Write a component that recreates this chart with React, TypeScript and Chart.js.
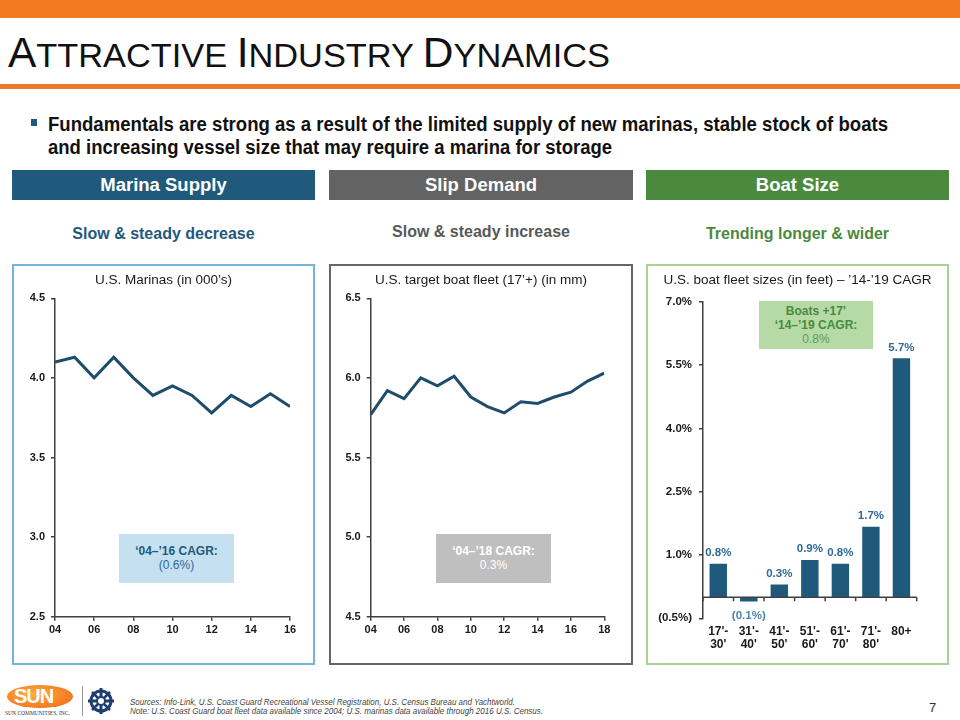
import React, { useEffect, useLayoutEffect, useRef } from "react";
import { Chart, registerables } from "chart.js";

Chart.register(...registerables);

const FONT = "'Liberation Sans', Arial, Helvetica, sans-serif";

// ---- data ----
const marinaYears = [2004, 2005, 2006, 2007, 2008, 2009, 2010, 2011, 2012, 2013, 2014, 2015, 2016];
const marinaValues = [4.10, 4.13, 4.00, 4.13, 4.00, 3.89, 3.95, 3.89, 3.78, 3.89, 3.82, 3.90, 3.82];

const fleetYears = [2004, 2005, 2006, 2007, 2008, 2009, 2010, 2011, 2012, 2013, 2014, 2015, 2016, 2017, 2018];
const fleetValues = [5.77, 5.92, 5.87, 6.00, 5.95, 6.01, 5.88, 5.82, 5.78, 5.85, 5.84, 5.88, 5.91, 5.98, 6.03];

const sizeCategories = [["17'-", "30'"], ["31'-", "40'"], ["41'-", "50'"], ["51'-", "60'"], ["61'-", "70'"], ["71'-", "80'"], ["80+"]];
const sizeValues = [0.79, -0.1, 0.3, 0.88, 0.79, 1.67, 5.66];

const marinaTicks = { min: 2.5, max: 4.5, step: 0.5 };
const fleetTicks = { min: 4.5, max: 6.5, step: 0.5 };
const sizeTicks = { min: -0.5, max: 7.0, step: 1.5 };

// ---- colours ----
const ORANGE = "#F47920";
const NAVY = "#1F5A7C";
const LINE = "#1E4D6B";
const GRAY = "#636363";
const GREEN = "#4B8A3E";
const AXIS = "#404040";
const TICK_TEXT = "#1a1a1a";

function fmtPct(v: number) {
  return v < 0 ? `(${Math.abs(v).toFixed(1)}%)` : `${v.toFixed(1)}%`;
}

function FitText({ width, style, children }: any) {
  const ref = useRef<HTMLSpanElement>(null);
  useLayoutEffect(() => {
    const el = ref.current;
    if (!el) return;
    el.style.transform = "none";
    const w = el.getBoundingClientRect().width;
    if (w > 0) el.style.transform = `scaleX(${width / w})`;
  }, [width]);
  return (
    <span
      ref={ref}
      style={{ display: "inline-block", whiteSpace: "nowrap", transformOrigin: "left center", ...style }}
    >
      {children}
    </span>
  );
}

function ChartCanvas({ left, top, width, height, make }: any) {
  const ref = useRef<HTMLCanvasElement>(null);
  useEffect(() => {
    const chart = new Chart(ref.current as HTMLCanvasElement, make());
    return () => chart.destroy();
  }, []);
  return (
    <canvas
      ref={ref}
      width={width}
      height={height}
      style={{ position: "absolute", left, top, width, height }}
    />
  );
}

function lineConfig(opts: {
  years: number[];
  values: number[];
  ticks: { min: number; max: number; step: number };
  yWidth: number;
  padRight: number;
}) {
  return {
    type: "line",
    data: {
      datasets: [
        {
          data: opts.years.map((x, i) => ({ x, y: opts.values[i] })),
          borderColor: LINE,
          borderWidth: 3,
          pointRadius: 0,
          tension: 0,
          fill: false,
        },
      ],
    },
    options: {
      animation: false,
      responsive: false,
      maintainAspectRatio: false,
      layout: { padding: { left: 0, right: opts.padRight, top: 33.3, bottom: 0 } },
      plugins: {
        legend: { display: false },
        tooltip: { enabled: false },
        title: { display: false },
      },
      scales: {
        x: {
          type: "linear",
          min: opts.years[0],
          max: opts.years[opts.years.length - 1],
          ticks: {
            stepSize: 2,
            callback: (v: any) => String(v).slice(2),
            color: TICK_TEXT,
            font: { family: FONT, size: 11, weight: "bold" },
            padding: 3,
            maxRotation: 0,
            autoSkip: false,
          },
          grid: { display: true, drawOnChartArea: false, drawTicks: true, tickLength: 4, color: AXIS, lineWidth: 1.5 },
          border: { display: true, color: AXIS, width: 1.5 },
          afterFit: (s: any) => {
            s.height = 47.3;
          },
        },
        y: {
          min: opts.ticks.min,
          max: opts.ticks.max,
          ticks: {
            stepSize: opts.ticks.step,
            callback: (v: any) => Number(v).toFixed(1),
            color: TICK_TEXT,
            font: { family: FONT, size: 11, weight: "bold" },
            padding: 6,
          },
          grid: { display: true, drawOnChartArea: false, drawTicks: true, tickLength: 4, color: AXIS, lineWidth: 1.5 },
          border: { display: true, color: AXIS, width: 1.5 },
          afterFit: (s: any) => {
            s.width = opts.yWidth;
          },
        },
      },
    },
  };
}

const zeroLinePlugin = {
  id: "zeroLine",
  afterDatasetsDraw(chart: any) {
    const { ctx, chartArea, scales } = chart;
    const y0 = scales.y.getPixelForValue(0);
    const n = chart.data.labels.length;
    ctx.save();
    ctx.strokeStyle = AXIS;
    ctx.lineWidth = 1.5;
    ctx.beginPath();
    ctx.moveTo(chartArea.left, y0);
    ctx.lineTo(chartArea.right, y0);
    for (let i = 0; i <= n; i++) {
      const px = chartArea.left + ((chartArea.right - chartArea.left) * i) / n;
      ctx.moveTo(px, y0);
      ctx.lineTo(px, y0 + 4);
    }
    ctx.stroke();
    ctx.restore();
  },
};

const barLabelPlugin = {
  id: "barLabels",
  afterDatasetsDraw(chart: any) {
    const { ctx } = chart;
    const meta = chart.getDatasetMeta(0);
    const data = chart.data.datasets[0].data as number[];
    ctx.save();
    ctx.font = `bold 11.5px ${FONT}`;
    ctx.textAlign = "center";
    meta.data.forEach((el: any, i: number) => {
      const v = data[i];
      if (v >= 0) {
        ctx.fillStyle = "#2E6B96";
        ctx.textBaseline = "bottom";
        ctx.fillText(fmtPct(v), el.x, el.y - 5);
      } else {
        ctx.fillStyle = "#4A83AE";
        ctx.textBaseline = "top";
        ctx.fillText(fmtPct(v), el.x, el.y + 9);
      }
    });
    ctx.restore();
  },
};

function barConfig() {
  return {
    type: "bar",
    data: {
      labels: sizeCategories,
      datasets: [
        {
          data: sizeValues,
          backgroundColor: NAVY,
          barPercentage: 0.57,
          categoryPercentage: 1,
        },
      ],
    },
    plugins: [zeroLinePlugin, barLabelPlugin],
    options: {
      animation: false,
      responsive: false,
      maintainAspectRatio: false,
      layout: { padding: { left: 0, right: 31.3, top: 36.7, bottom: 0 } },
      plugins: {
        legend: { display: false },
        tooltip: { enabled: false },
        title: { display: false },
      },
      scales: {
        x: {
          ticks: {
            color: TICK_TEXT,
            font: { family: FONT, size: 12, weight: "bold", lineHeight: 1.05 },
            padding: 7,
            maxRotation: 0,
            autoSkip: false,
          },
          grid: { display: false, drawTicks: false },
          border: { display: false },
          afterFit: (s: any) => {
            s.height = 45.7;
          },
        },
        y: {
          min: sizeTicks.min,
          max: sizeTicks.max,
          ticks: {
            stepSize: sizeTicks.step,
            callback: (v: any) => fmtPct(Number(v)),
            color: TICK_TEXT,
            font: { family: FONT, size: 11.5, weight: "bold" },
            padding: 7,
          },
          grid: { display: true, drawOnChartArea: false, drawTicks: true, tickLength: 4, color: AXIS, lineWidth: 1.5 },
          border: { display: true, color: AXIS, width: 1.5 },
          afterFit: (s: any) => {
            s.width = 56;
          },
        },
      },
    },
  };
}

const abs = (left: number, top: number, width?: number, height?: number): React.CSSProperties => ({
  position: "absolute",
  left,
  top,
  width,
  height,
});

function Header({ left, width, color, text }: any) {
  return (
    <div
      style={{
        ...abs(left, 170, width, 30),
        background: color,
        color: "#fff",
        fontWeight: "bold",
        fontSize: 18.5,
        lineHeight: "30px",
        textAlign: "center",
      }}
    >
      {text}
    </div>
  );
}

function Sub({ left, width, top, color, text }: any) {
  return (
    <div
      style={{
        ...abs(left, top, width, 20),
        color,
        fontWeight: "bold",
        fontSize: 16,
        lineHeight: "20px",
        textAlign: "center",
      }}
    >
      {text}
    </div>
  );
}

function ChartTitle({ left, width, text }: any) {
  return (
    <div
      style={{
        ...abs(left, 271, width, 18),
        color: TICK_TEXT,
        fontSize: 13.5,
        lineHeight: "18px",
        textAlign: "center",
        whiteSpace: "nowrap",
      }}
    >
      {text}
    </div>
  );
}

function Panel({ left, width, color }: any) {
  return (
    <div
      style={{
        ...abs(left, 264, width, 401),
        boxSizing: "border-box",
        border: `2px solid ${color}`,
        pointerEvents: "none",
      }}
    />
  );
}

function NoteBox({ left, top, width, height, bg, lines }: any) {
  return (
    <div
      style={{
        ...abs(left, top, width, height),
        background: bg,
        display: "flex",
        flexDirection: "column",
        justifyContent: "center",
        alignItems: "center",
        fontSize: 12,
        lineHeight: "14px",
      }}
    >
      {lines.map((l: any, i: number) => (
        <div key={i} style={{ color: l.color, fontWeight: l.bold ? "bold" : "normal" }}>
          {l.text}
        </div>
      ))}
    </div>
  );
}

export default function App() {
  useEffect(() => {
    document.body.style.margin = "0";
  }, []);

  return (
    <div
      style={{
        position: "absolute",
        left: 0,
        top: 0,
        width: 960,
        height: 720,
        background: "#fff",
        overflow: "hidden",
        fontFamily: FONT,
      }}
    >
      {/* top bar */}
      <div style={{ ...abs(0, 0, 960, 18), background: ORANGE }} />

      {/* title */}
      <div style={{ ...abs(8, 31.5), fontSize: 42, lineHeight: "42px", color: "#111" }}>
        <FitText width={602}>
          A<span style={{ fontSize: 34 }}>TTRACTIVE </span>I<span style={{ fontSize: 34 }}>NDUSTRY </span>D
          <span style={{ fontSize: 34 }}>YNAMICS</span>
        </FitText>
      </div>

      <div style={{ ...abs(0, 84, 960, 5), background: "#EF792B" }} />

      {/* bullet */}
      <div style={{ ...abs(31, 119, 6, 7), background: NAVY }} />
      <div style={{ ...abs(48, 114.5), fontSize: 19.5, lineHeight: "19px", fontWeight: "bold", color: "#111" }}>
        <FitText width={840}>
          Fundamentals are strong as a result of the limited supply of new marinas, stable stock of boats
        </FitText>
      </div>
      <div style={{ ...abs(48, 137.5), fontSize: 19.5, lineHeight: "19px", fontWeight: "bold", color: "#111" }}>
        <FitText width={564}>and increasing vessel size that may require a marina for storage</FitText>
      </div>

      {/* headers */}
      <Header left={12} width={303} color={NAVY} text="Marina Supply" />
      <Header left={329} width={304} color={GRAY} text="Slip Demand" />
      <Header left={646} width={303} color={GREEN} text="Boat Size" />

      <Sub left={12} width={303} top={224} color={NAVY} text="Slow & steady decrease" />
      <Sub left={329} width={304} top={222} color="#595959" text="Slow & steady increase" />
      <Sub left={646} width={303} top={224} color={GREEN} text="Trending longer & wider" />

      {/* charts */}
      <ChartCanvas
        left={13}
        top={265}
        width={301}
        height={399}
        make={() =>
          lineConfig({
            years: marinaYears,
            values: marinaValues,
            ticks: marinaTicks,
            yWidth: 42,
            padRight: 24,
          })
        }
      />
      <ChartCanvas
        left={330}
        top={265}
        width={302}
        height={399}
        make={() =>
          lineConfig({
            years: fleetYears,
            values: fleetValues,
            ticks: fleetTicks,
            yWidth: 40.7,
            padRight: 27.7,
          })
        }
      />
      <ChartCanvas left={647} top={265} width={301} height={399} make={barConfig} />

      <ChartTitle left={12} width={303} text="U.S. Marinas (in 000’s)" />
      <ChartTitle left={329} width={304} text="U.S. target boat fleet (17’+) (in mm)" />
      <ChartTitle left={646} width={303} text="U.S. boat fleet sizes (in feet) – ’14-’19 CAGR" />

      <Panel left={12} width={303} color="#74B3DA" />
      <Panel left={329} width={304} color="#666666" />
      <Panel left={646} width={303} color="#A6D296" />

      {/* annotation boxes */}
      <NoteBox
        left={119}
        top={534}
        width={115}
        height={48.5}
        bg="#C5E1F1"
        lines={[
          { text: "‘04–’16 CAGR:", color: NAVY, bold: true },
          { text: "(0.6%)", color: "#2E6B96", bold: false },
        ]}
      />
      <NoteBox
        left={436}
        top={534}
        width={115}
        height={48.5}
        bg="#BFBFBF"
        lines={[
          { text: "‘04–’18 CAGR:", color: "#fff", bold: true },
          { text: "0.3%", color: "#fff", bold: false },
        ]}
      />
      <NoteBox
        left={759}
        top={301}
        width={114}
        height={47.5}
        bg="#B5DAA6"
        lines={[
          { text: "Boats +17’", color: GREEN, bold: true },
          { text: "‘14–’19 CAGR:", color: GREEN, bold: true },
          { text: "0.8%", color: "#5E9E50", bold: false },
        ]}
      />

      {/* footer logo */}
      <div
        style={{
          ...abs(7, 685, 66, 23),
          borderRadius: "50%",
          background: "radial-gradient(ellipse at 40% 40%, #FBB040 0%, #F47920 70%, #E8661B 100%)",
          color: "#fff",
          fontWeight: "bold",
          fontSize: 20,
          lineHeight: "23px",
          textAlign: "left",
          paddingLeft: 7,
          boxSizing: "border-box",
          letterSpacing: -1,
        }}
      >
        SUN
      </div>
      <div
        style={{
          ...abs(5, 709, 76, 8),
          fontFamily: "'Liberation Serif', serif",
          fontSize: 5.5,
          lineHeight: "8px",
          color: "#333",
          whiteSpace: "nowrap",
        }}
      >
        SUN COMMUNITIES, INC.
      </div>
      <div style={{ ...abs(82, 686, 1, 30), background: "#999" }} />
      <svg style={abs(87, 687, 28, 28)} width={28} height={28} viewBox="0 0 28 28">
        <circle cx="14" cy="14" r="10" fill="none" stroke="#1F3F6E" strokeWidth="3" />
        <line x1="14" y1="1" x2="14" y2="27" stroke="#1F3F6E" strokeWidth="3" />
        <line x1="1" y1="14" x2="27" y2="14" stroke="#1F3F6E" strokeWidth="3" />
        <line x1="5" y1="5" x2="23" y2="23" stroke="#1F3F6E" strokeWidth="2.5" />
        <line x1="23" y1="5" x2="5" y2="23" stroke="#1F3F6E" strokeWidth="2.5" />
        <circle cx="14" cy="14" r="4" fill="#fff" stroke="#1F3F6E" strokeWidth="2" />
      </svg>

      {/* sources */}
      <div style={{ ...abs(130, 698), fontSize: 8.5, lineHeight: "9px", fontStyle: "italic", color: "#444" }}>
        <FitText width={385}>
          Sources: Info-Link, U.S. Coast Guard Recreational Vessel Registration, U.S. Census Bureau and Yachtworld.
        </FitText>
      </div>
      <div style={{ ...abs(130, 707), fontSize: 8.5, lineHeight: "9px", fontStyle: "italic", color: "#444" }}>
        <FitText width={413}>
          Note: U.S. Coast Guard boat fleet data available since 2004; U.S. marinas data available through 2016 U.S.
          Census.
        </FitText>
      </div>
      <div style={{ ...abs(929, 701), fontSize: 13, lineHeight: "14px", color: "#333" }}>7</div>
    </div>
  );
}
